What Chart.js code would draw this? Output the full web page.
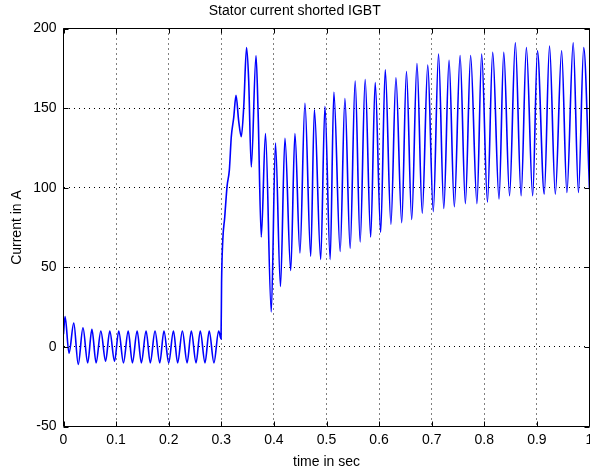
<!DOCTYPE html>
<html>
<head>
<meta charset="utf-8">
<script src="https://cdn.jsdelivr.net/npm/chart.js@4/dist/chart.umd.min.js"></script>
<style>
  html, body { margin: 0; padding: 0; background: #fff; overflow: hidden; }
  #chart { display: block; }
</style>
</head>
<body>
<canvas id="chart" width="590" height="471"></canvas>
<script>
// samples (peaks / troughs of the waveform)
const timeSec = [
  0.000, 0.003, 0.0105, 0.0195, 0.028, 0.037, 0.046, 0.054, 0.062, 0.071,
  0.080, 0.088, 0.097, 0.105, 0.114, 0.123, 0.131, 0.140, 0.148, 0.157,
  0.165, 0.174, 0.183, 0.191, 0.200, 0.209, 0.217, 0.226, 0.235, 0.243,
  0.252, 0.260, 0.269, 0.277, 0.286, 0.295, 0.2995,
  0.3005, 0.3028, 0.3064, 0.311, 0.3153, 0.319, 0.3236, 0.328, 0.333, 0.338,
  0.3427, 0.348, 0.352, 0.357, 0.366, 0.370, 0.376, 0.384, 0.395, 0.403,
  0.4125, 0.421, 0.432, 0.440, 0.4495, 0.459, 0.470, 0.477, 0.489, 0.497,
  0.507, 0.514, 0.526, 0.535, 0.545, 0.5545, 0.564, 0.5735, 0.584, 0.5926,
  0.603, 0.6117, 0.6225, 0.632, 0.643, 0.652, 0.662, 0.672, 0.682, 0.6925,
  0.703, 0.713, 0.723, 0.733, 0.743, 0.754, 0.764, 0.774, 0.786, 0.795,
  0.806, 0.816, 0.828, 0.837, 0.848, 0.859, 0.870, 0.880, 0.892, 0.901,
  0.914, 0.924, 0.935, 0.947, 0.957, 0.969, 0.979, 0.989, 1.0
];
const currentA = [
  8, 19, -4, 15, -11, 12, -10, 11, -10, 10,
  -9, 10, -9, 10, -10, 10, -10, 10, -10, 10,
  -10, 10, -10, 10, -10, 10, -10, 10, -10, 10,
  -10, 10, -10, 10, -10, 10, 5,
  40, 67, 81, 101, 111, 132, 144, 158, 142, 132,
  151, 188, 168, 113, 183, 147, 69, 134, 22, 128,
  38, 131, 48, 134, 59, 153, 57, 149, 55, 151,
  55, 160, 60, 156, 62, 167, 66, 168, 69, 166,
  72, 174, 77, 169, 78, 173, 80, 178, 84, 177,
  85, 184, 87, 180, 88, 183, 90, 183, 90, 184,
  91, 185, 93, 185, 95, 191, 95, 188, 95, 186,
  96, 189, 96, 186, 97, 191, 97, 188, 99
];
const xTicks = [0, 0.1, 0.2, 0.3, 0.4, 0.5, 0.6, 0.7, 0.8, 0.9, 1];
const yTicks = [-50, 0, 50, 100, 150, 200];

const FONT = "'Liberation Sans', Arial, Helvetica, sans-serif";

// MATLAB style box with inward tick marks
const matlabFrame = {
  id: 'matlabFrame',
  afterDatasetsDraw(chart) {
    const ctx = chart.ctx;
    const a = chart.chartArea;
    const x = chart.scales.x, y = chart.scales.y;
    ctx.save();
    ctx.strokeStyle = '#000';
    ctx.lineWidth = 1;
    ctx.setLineDash([]);
    ctx.beginPath();
    ctx.rect(a.left, a.top, a.right - a.left, a.bottom - a.top);
    xTicks.forEach((v) => {
      const px = Math.round(x.getPixelForValue(v)) + 0.5;
      ctx.moveTo(px, a.bottom); ctx.lineTo(px, a.bottom - 5);
      ctx.moveTo(px, a.top); ctx.lineTo(px, a.top + 5);
    });
    yTicks.forEach((v) => {
      const py = Math.round(y.getPixelForValue(v)) + 0.5;
      ctx.moveTo(a.left, py); ctx.lineTo(a.left + 5, py);
      ctx.moveTo(a.right, py); ctx.lineTo(a.right - 5, py);
    });
    ctx.stroke();
    ctx.restore();
  }
};

const points = timeSec.map((t, i) => ({ x: t, y: currentA[i] }));

new Chart(document.getElementById('chart'), {
  type: 'line',
  data: {
    datasets: [{
      data: points,
      borderColor: '#0000ff',
      borderWidth: 1.6,
      pointRadius: 0,
      cubicInterpolationMode: 'monotone',
      fill: false
    }]
  },
  options: {
    responsive: false,
    animation: false,
    layout: { padding: { top: 0, right: 0.5, bottom: 0, left: 0 } },
    plugins: {
      legend: { display: false },
      tooltip: { enabled: false },
      title: {
        display: true,
        text: 'Stator current shorted IGBT',
        color: '#000',
        font: { family: FONT, size: 14, weight: 'normal' },
        padding: { top: 3, bottom: 8.7 }
      }
    },
    scales: {
      x: {
        type: 'linear',
        min: 0,
        max: 1,
        afterBuildTicks: (s) => { s.ticks = xTicks.map((v) => ({ value: v })); },
        afterFit: (s) => { s.height = 44.5; s.paddingLeft = 0; s.paddingRight = 0; },
        ticks: {
          autoSkip: false,
          maxRotation: 0,
          padding: 5,
          color: '#000',
          font: { family: FONT, size: 14 },
          callback: (v) => String(+Number(v).toFixed(1))
        },
        grid: { color: '#000', lineWidth: 1, drawTicks: false },
        border: { display: false, dash: [1, 4] },
        title: {
          display: true,
          text: 'time in sec',
          color: '#000',
          font: { family: FONT, size: 14 },
          padding: { top: 2, bottom: 0 }
        }
      },
      y: {
        type: 'linear',
        min: -50,
        max: 200,
        afterBuildTicks: (s) => { s.ticks = yTicks.map((v) => ({ value: v })); },
        afterFit: (s) => { s.width = 63.5; s.paddingTop = 0; s.paddingBottom = 0; },
        ticks: {
          padding: 7,
          color: '#000',
          font: { family: FONT, size: 14 },
          callback: (v) => String(v)
        },
        grid: { color: '#000', lineWidth: 1, drawTicks: false },
        border: { display: false, dash: [1, 4] },
        title: {
          display: true,
          text: 'Current in A',
          color: '#000',
          font: { family: FONT, size: 14 },
          padding: { top: 9, bottom: 0 }
        }
      }
    }
  },
  plugins: [matlabFrame]
});
</script>
</body>
</html>
